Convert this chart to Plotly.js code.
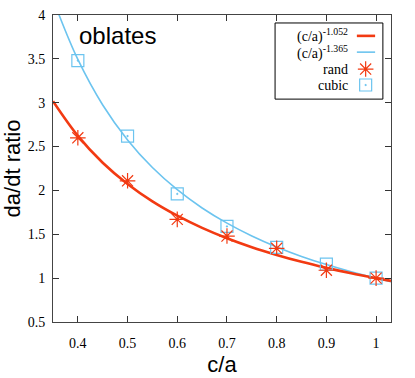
<!DOCTYPE html>
<html>
<head>
<meta charset="utf-8">
<script src="https://cdn.plot.ly/plotly-3.0.1.min.js"></script>
<style>
  html, body { margin: 0; padding: 0; background: #fff; }
  #gd { width: 415px; height: 378px; }
</style>
</head>
<body>
<div id="gd"></div>
<script>
// measured points
const ratio = [0.4, 0.5, 0.6, 0.7, 0.8, 0.9, 1.0];
const randVals = [2.6, 2.11, 1.67, 1.48, 1.34, 1.09, 1.0];
const cubicVals = [3.48, 2.62, 1.96, 1.59, 1.35, 1.16, 1.0];

// fitted curves, tabulated (c/a)^-1.052 and (c/a)^-1.365
const fitRedX = [0.35, 0.4, 0.45, 0.5, 0.55, 0.6, 0.65, 0.7, 0.75, 0.8, 0.85, 0.9, 0.95, 1.0, 1.03];
const fitRedY = [3.017, 2.622, 2.316, 2.073, 1.875, 1.712, 1.573, 1.455, 1.353, 1.265, 1.186, 1.117, 1.055, 1.0, 0.969];
const fitBlueX = [0.362, 0.4, 0.45, 0.5, 0.55, 0.6, 0.65, 0.7, 0.75, 0.8, 0.85, 0.9, 0.95, 1.0, 1.03];
const fitBlueY = [4.003, 3.493, 2.974, 2.576, 2.261, 2.008, 1.800, 1.627, 1.481, 1.356, 1.248, 1.155, 1.073, 1.0, 0.960];

const legendLabels = ['(c/a)<sup>-1.052</sup>', '(c/a)<sup>-1.365</sup>', 'rand', 'cubic'];

const red = '#f23a12';
const blue = '#6cc4ef';
const serif = 'Liberation Serif, Times New Roman, serif';
const sans = 'Liberation Sans, Arial, sans-serif';

// legend rows (fraction of plot height) and columns
const legY = [0.932, 0.879, 0.824, 0.772];
const legTextX = 0.879;
const legSymX = 0.925;

const starMarker = { symbol: 'asterisk-open', size: 13, color: red, line: { width: 1.2, color: red } };
const squareMarker = { symbol: 'square-open-dot', size: 12, color: blue, line: { width: 1.2, color: blue } };

const data = [
  { x: fitBlueX, y: fitBlueY, mode: 'lines', line: { color: blue, width: 1.6, shape: 'spline' } },
  { x: fitRedX, y: fitRedY, mode: 'lines', line: { color: red, width: 2.6, shape: 'spline' } },
  { x: ratio, y: cubicVals, mode: 'markers', marker: squareMarker },
  { x: ratio, y: randVals, mode: 'markers', marker: starMarker },
  // legend glyphs on a hidden 0..1 overlay
  { x: [legSymX], y: [legY[2]], xaxis: 'x2', yaxis: 'y2', mode: 'markers', marker: starMarker },
  { x: [legSymX], y: [legY[3]], xaxis: 'x2', yaxis: 'y2', mode: 'markers', marker: squareMarker }
];

const annotations = legendLabels.map((t, i) => ({
  xref: 'x2', yref: 'y2', x: legTextX, y: legY[i], text: t, showarrow: false,
  xanchor: 'right', yanchor: 'middle', font: { family: serif, size: 14, color: '#000' }
}));
annotations.push({
  xref: 'paper', yref: 'paper', x: 0.07, y: 0.985, text: 'oblates', showarrow: false,
  xanchor: 'left', yanchor: 'top', font: { family: sans, size: 24, color: '#000' }
});

const layout = {
  width: 415, height: 378,
  margin: { l: 53, r: 24, t: 15, b: 56 },
  paper_bgcolor: '#fff', plot_bgcolor: '#fff',
  showlegend: false,
  xaxis: {
    range: [0.35, 1.03], tickvals: [0.4, 0.5, 0.6, 0.7, 0.8, 0.9, 1], ticktext: ['0.4', '0.5', '0.6', '0.7', '0.8', '0.9', '1'],
    ticks: 'inside', ticklen: 6, tickcolor: '#333', showline: true, linecolor: '#444', linewidth: 1, mirror: 'ticks',
    showgrid: false, zeroline: false, ticklabelstandoff: 8,
    tickfont: { family: serif, size: 14, color: '#000' },
    title: { text: 'c/a', font: { family: sans, size: 22, color: '#000' }, standoff: 6 }
  },
  yaxis: {
    range: [0.5, 4], tickvals: [0.5, 1, 1.5, 2, 2.5, 3, 3.5, 4], ticktext: ['0.5', '1', '1.5', '2', '2.5', '3', '3.5', '4'],
    ticks: 'inside', ticklen: 6, tickcolor: '#333', showline: true, linecolor: '#444', linewidth: 1, mirror: 'ticks',
    showgrid: false, zeroline: false, ticklabelstandoff: 4,
    tickfont: { family: serif, size: 14, color: '#000' },
    title: { text: 'da/dt ratio', font: { family: sans, size: 22, color: '#000' }, standoff: 6 }
  },
  xaxis2: { overlaying: 'x', range: [0, 1], visible: false, fixedrange: true },
  yaxis2: { overlaying: 'y', range: [0, 1], visible: false, fixedrange: true },
  shapes: [
    { type: 'rect', xref: 'paper', yref: 'paper', x0: 0.657, x1: 0.976, y0: 0.726, y1: 0.974,
      line: { color: '#000', width: 1 }, fillcolor: '#fff', layer: 'below' },
    { type: 'line', xref: 'paper', yref: 'paper', x0: 0.899, x1: 0.953, y0: legY[0], y1: legY[0],
      line: { color: red, width: 2.6 } },
    { type: 'line', xref: 'paper', yref: 'paper', x0: 0.899, x1: 0.953, y0: legY[1], y1: legY[1],
      line: { color: blue, width: 1.6 } }
  ],
  annotations: annotations
};

Plotly.newPlot('gd', data, layout, { displayModeBar: false, staticPlot: true });
</script>
</body>
</html>
